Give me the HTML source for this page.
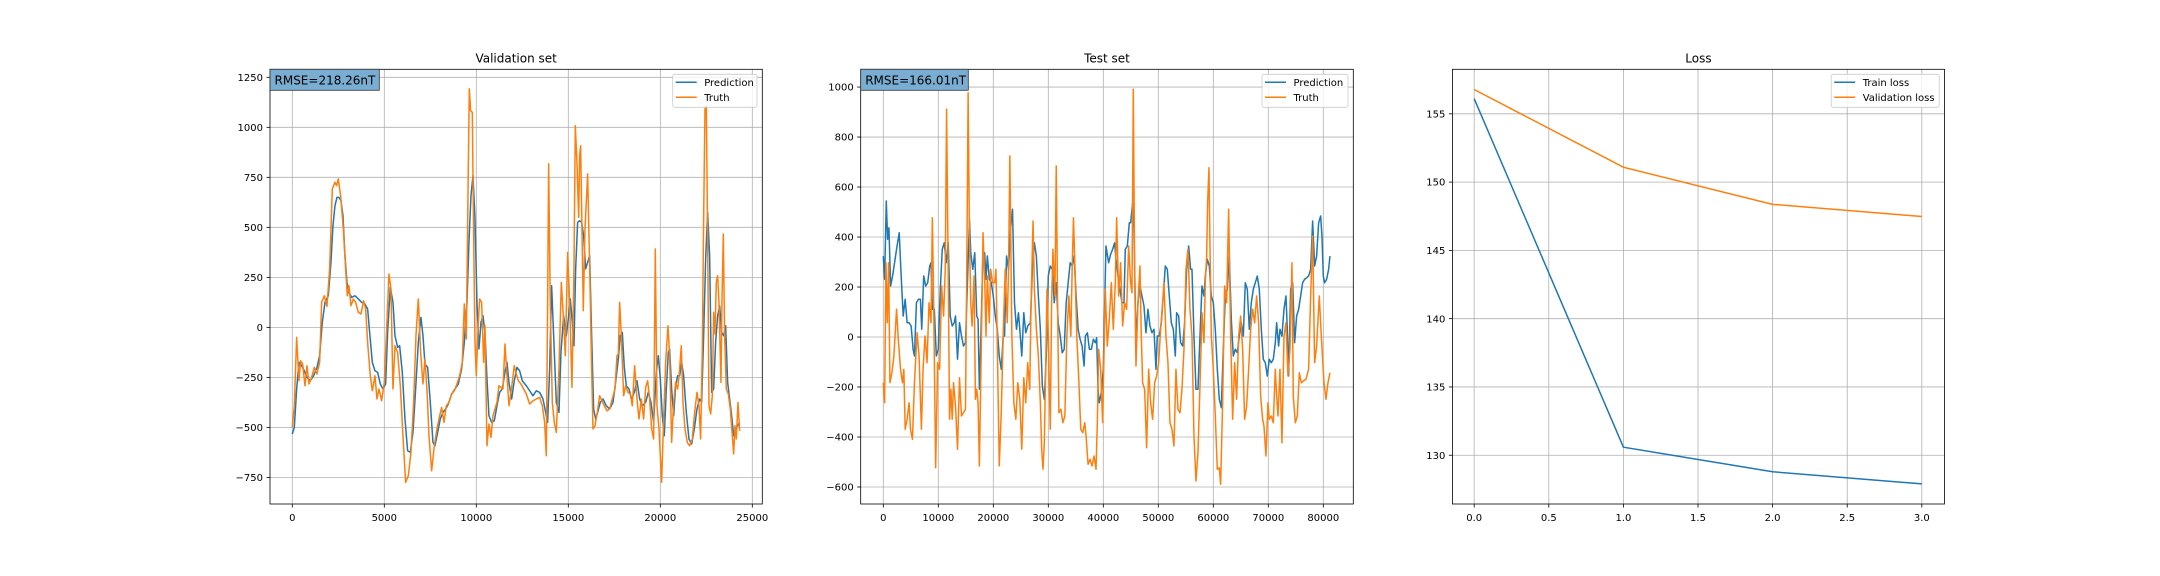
<!DOCTYPE html>
<html><head><meta charset="utf-8">
<style>
html,body{margin:0;padding:0;background:#fff;}
svg{display:block;font-family:"DejaVu Sans","Liberation Sans",sans-serif;}
</style></head>
<body>
<svg id="fig" width="2160" height="576" viewBox="0 0 2160 576" xmlns="http://www.w3.org/2000/svg">
<rect x="0" y="0" width="2160" height="576" fill="#fff"/>
</svg>
<script>
// ---------- Validation set data ----------
const valTruthX = [0,109,236,362,453,562,688,797,906,1051,1196,1341,1486,1594,1739,1884,2029,2174,2319,2409,2500,2627,2772,2899,2989,3080,3188,3315,3442,3587,3732,3877,3986,4094,4239,4348,4493,4601,4710,4855,5000,5127,5254,5362,5471,5580,5725,5870,6014,6159,6304,6449,6594,6721,6848,6975,7101,7210,7337,7428,7573,7717,7862,8007,8116,8243,8370,8514,8659,8804,8949,9094,9239,9348,9457,9565,9620,9692,9783,9855,9928,10000,10109,10181,10290,10399,10471,10580,10688,10797,10906,11014,11123,11232,11341,11449,11558,11667,11775,11920,12065,12174,12283,12428,12572,12717,12899,13080,13261,13442,13587,13714,13804,13877,13931,14022,14130,14239,14348,14493,14620,14728,14837,14964,15072,15199,15308,15380,15471,15562,15616,15670,15725,15815,15906,16051,16160,16250,16341,16449,16576,16703,16830,16956,17101,17246,17391,17536,17645,17717,17790,17880,18007,18116,18243,18370,18478,18605,18732,18841,18967,19094,19203,19312,19420,19529,19638,19728,19819,19928,20072,20181,20290,20417,20507,20616,20725,20833,20942,21051,21141,21232,21341,21467,21594,21739,21866,21993,22101,22192,22283,22355,22428,22500,22572,22645,22736,22826,22899,22971,23043,23116,23188,23297,23351,23424,23496,23587,23696,23804,23913,23986,24058,24130,24221,24312];
const valTruthY = [-500,-392,-50,-267,-167,-183,-292,-192,-283,-250,-200,-233,-175,125,158,105,292,692,725,708,742,658,492,292,158,208,108,142,125,75,67,133,92,-75,-242,-317,-242,-358,-308,-367,-275,-8,267,192,-308,-92,-125,-292,-542,-775,-742,-625,-375,-42,142,-125,-283,-158,-342,-542,-717,-592,-508,-442,-400,-475,-392,-375,-333,-317,-283,-242,-175,117,-58,792,1192,1083,1075,458,-75,-242,25,142,125,-175,8,-592,-483,-550,-442,-408,-375,-292,-300,-308,-83,-242,-392,-300,-192,-233,-267,-283,-308,-333,-383,-367,-358,-350,-392,-475,-642,125,817,108,-375,-475,-525,-208,225,58,-142,375,125,-300,292,1008,825,550,858,908,592,83,492,767,308,-125,-508,-492,-425,-342,-367,-392,-417,-408,-358,-308,-142,-133,125,-42,-342,-292,-325,-333,-392,-192,-358,-458,-358,-458,-300,-267,-358,-508,-558,392,-392,-508,-775,-458,-175,8,-142,-575,-375,-275,-308,-208,-92,-375,-508,-575,-592,-558,-425,-325,-392,-558,-108,542,1092,1108,458,-392,-433,-342,75,-33,225,258,125,-275,125,467,-42,-308,-333,-408,-542,-633,-492,-558,-375,-517];
const valPredX = [0,109,236,362,507,652,797,978,1159,1341,1486,1630,1775,1957,2101,2210,2319,2428,2536,2645,2754,2862,2971,3080,3225,3406,3587,3768,3949,4094,4203,4348,4493,4638,4783,4928,5072,5181,5326,5471,5580,5725,5833,5978,6123,6268,6413,6558,6703,6848,6993,7101,7210,7355,7500,7645,7754,7899,8043,8188,8333,8478,8659,8841,9022,9203,9348,9493,9601,9710,9819,9928,10036,10145,10254,10362,10471,10580,10688,10833,10978,11123,11268,11413,11558,11667,11775,11920,12065,12210,12355,12500,12717,12899,13080,13261,13442,13623,13768,13877,13986,14094,14203,14348,14493,14601,14746,14891,15000,15109,15217,15308,15399,15507,15616,15725,15833,15942,16051,16160,16268,16377,16486,16594,16739,16884,17065,17246,17428,17572,17717,17826,17935,18043,18152,18297,18442,18587,18732,18877,19022,19203,19348,19493,19638,19783,19891,20000,20109,20217,20326,20435,20507,20616,20725,20833,20942,21051,21159,21268,21413,21558,21703,21848,21993,22138,22246,22355,22464,22572,22681,22790,22899,23007,23116,23225,23333,23442,23551,23659,23768,23877,23986,24094,24203,24312];
const valPredY = [-533,-500,-308,-175,-192,-217,-250,-267,-242,-200,-142,25,125,158,325,508,608,650,650,633,558,358,225,175,150,158,142,125,117,92,-25,-175,-217,-225,-283,-308,-283,-25,200,125,-42,-100,-92,-225,-458,-617,-625,-525,-308,-75,50,-42,-183,-200,-375,-575,-592,-525,-458,-425,-408,-383,-333,-308,-283,-208,-75,125,425,658,758,542,125,-108,25,58,-25,-258,-442,-475,-467,-392,-325,-308,-225,-175,-275,-358,-267,-200,-217,-267,-292,-317,-342,-317,-325,-358,-425,-475,-208,208,-42,-375,-425,-125,58,-42,42,142,25,-92,292,525,533,525,458,292,325,358,-42,-408,-458,-425,-375,-358,-392,-408,-375,-275,-158,-42,-25,-200,-292,-308,-358,-325,-267,-358,-392,-375,-325,-375,-475,-225,-142,-258,-442,-542,-308,-125,-108,-308,-442,-292,-242,-242,-175,-242,-425,-558,-583,-508,-408,-358,-375,-42,342,575,358,-325,-308,-75,58,108,-25,-42,8,-275,-358,-442,-542,-508,-492,-475];
const valXTicks = [0,5000,10000,15000,20000,25000];
const valYTicks = [-750,-500,-250,0,250,500,750,1000,1250];

// ---------- Test set data ----------
const testTruthX = [0,241,482,723,964,1205,1566,1928,2410,2771,3133,3494,3735,3976,4337,4699,4940,5301,5663,6145,6506,6928,7229,7590,7952,8313,8675,8916,9157,9518,9880,10241,10602,10964,11265,11506,11807,12048,12289,12530,12771,13133,13494,13855,14217,14578,14940,15181,15422,15663,15904,16145,16506,16747,16988,17229,17470,17831,18133,18434,18675,18916,19277,19518,19880,20241,20482,20723,21084,21446,21807,22169,22530,22771,23012,23374,23735,24096,24458,24819,25181,25542,25904,26265,26627,26867,27229,27470,27831,28193,28554,28795,29036,29277,29518,29759,30000,30361,30602,30843,31205,31446,31687,31928,32289,32651,33012,33373,33735,34096,34337,34578,34819,35181,35542,35904,36265,36627,36867,37229,37590,37952,38313,38675,38916,39157,39518,39880,40364,40728,41091,41455,41819,42183,42425,42789,43152,43516,43880,44243,44607,44971,45213,45455,45697,45940,46303,46667,46910,47152,47516,47880,48243,48607,48970,49334,49697,50061,50425,50788,51030,51394,51758,52121,52485,52849,53212,53576,53940,54303,54667,55031,55394,55758,56122,56485,56849,57213,57576,57940,58304,58546,58788,58970,59213,59395,59637,60000,60364,60728,61091,61334,61697,62061,62425,62789,63152,63516,63880,64243,64607,64971,65334,65698,66062,66425,66789,67152,67516,67880,68243,68607,68970,69213,69576,69940,70182,70546,70910,71273,71516,71758,72122,72485,72849,73213,73576,73940,74304,74546,74910,75273,75637,76001,76364,76849,77334,77698,78061,78425,78789,79273,79637,80122,80486,80849,81213];
const testTruthY = [-183,-263,297,57,297,-183,-143,-76,111,-23,-129,-183,-129,-369,-329,-263,-369,-409,-183,17,-76,-369,-129,4,-103,137,57,477,137,-523,-103,-129,204,84,271,911,244,-329,-209,-329,-183,-276,-449,-163,-316,-303,-289,271,977,404,137,44,244,-249,-209,-263,-516,-23,417,231,4,244,57,271,217,217,271,-23,-516,-303,17,271,57,271,724,4,-263,-329,-183,-249,-449,-163,-263,-103,-209,137,464,191,31,-76,-263,-449,-529,-423,-129,191,4,-369,137,351,164,684,137,-303,-289,-343,-316,4,164,4,271,477,297,4,-169,-369,-383,-343,-396,-509,-489,-516,-476,-529,-343,-49,-129,-343,191,-36,71,217,31,217,477,164,297,44,137,111,364,217,177,991,271,-116,137,284,4,-183,-209,-443,-129,-263,-329,-183,-156,-103,31,137,217,4,-103,-343,-369,-436,-129,-289,-303,-209,-49,271,351,111,4,-396,-576,-463,-196,97,-23,217,324,537,677,364,4,-129,-316,-529,-523,-589,-263,204,137,511,4,-329,-103,-249,4,84,-49,-329,-276,-129,31,111,57,164,57,-236,-329,-356,-476,-263,-329,-316,-343,-129,-236,-316,-129,-423,4,57,-156,-49,297,-236,-343,-316,-143,-183,-176,-169,-129,164,404,-103,-36,164,4,-183,-249,-183,-143];
const testPredX = [0,241,542,783,1024,1325,1687,2048,2410,2892,3253,3614,3976,4337,4699,5060,5422,5663,6024,6386,6747,6988,7349,7711,8072,8434,8675,8916,9277,9638,10000,10361,10723,11084,11446,11807,12169,12530,12892,13133,13494,13855,14217,14578,14940,15301,15663,15904,16265,16627,16988,17229,17470,17711,18072,18434,18675,18916,19277,19639,20000,20361,20723,21084,21446,21807,22048,22410,22771,23133,23494,23855,24217,24578,24819,25181,25542,25904,26265,26747,27108,27470,27831,28193,28554,28916,29277,29639,30000,30361,30723,31084,31446,31807,32169,32530,32892,33253,33614,33976,34337,34699,35060,35422,35783,36145,36506,36747,37108,37470,37831,38193,38554,38795,39036,39277,39639,40000,40482,40970,41334,41698,42062,42304,42668,43031,43395,43759,44001,44365,44728,44971,45334,45577,45940,46303,46667,47031,47395,47758,48122,48486,48849,49213,49576,49819,50182,50546,50910,51273,51637,52001,52364,52728,53091,53334,53698,54061,54425,54789,55152,55516,55879,56122,56485,56849,57213,57576,57940,58304,58546,58910,59273,59637,60000,60364,60728,61091,61455,61819,62182,62546,62910,63273,63637,64001,64364,64728,65092,65455,65819,66183,66546,66910,67273,67637,68001,68364,68728,69092,69455,69819,70182,70546,70910,71273,71516,71879,72122,72485,72849,73213,73455,73698,74061,74425,74789,75152,75516,75879,76243,76607,76970,77334,77698,78061,78425,78789,79152,79516,79758,80001,80243,80607,80970,81213];
const testPredY = [324,231,544,391,437,204,244,297,351,417,244,84,151,57,57,44,-49,-76,137,151,151,31,244,204,217,284,297,111,111,-76,-49,191,351,377,297,377,84,44,57,84,-89,57,4,-36,-23,217,471,337,271,337,84,71,-209,-23,297,337,231,324,231,217,164,84,31,-76,-129,4,4,324,271,431,511,137,31,97,31,-76,97,17,44,57,271,377,324,164,31,-196,-249,-76,244,284,271,137,217,57,4,-63,-49,137,217,297,284,324,164,31,-9,-36,-116,4,17,-49,-49,-9,-23,-3,-209,-263,-223,-129,364,297,331,351,377,311,244,191,137,137,351,364,457,457,537,431,-23,137,204,164,124,17,111,44,17,31,-129,4,4,57,164,284,271,164,57,31,-76,97,84,-23,-36,57,271,364,271,271,4,-209,-209,4,204,164,244,311,284,164,137,31,-129,-249,-283,-49,164,191,324,71,-76,-49,-63,4,57,4,217,191,31,137,191,217,244,191,31,-89,-103,-156,-89,-103,-89,-23,57,-36,31,4,111,164,31,-156,191,217,-23,84,111,164,217,231,237,244,271,464,284,324,457,484,404,244,217,231,271,324];
const testXTicks = [0,10000,20000,30000,40000,50000,60000,70000,80000];
const testYTicks = [-600,-400,-200,0,200,400,600,800,1000];

// ---------- Loss data ----------
const epochs = [0,1,2,3];
const trainLoss = [156.11,130.59,128.79,127.90];
const validLoss = [156.78,151.09,148.37,147.48];
const lossXTicks = [0,0.5,1,1.5,2,2.5,3];
const lossYTicks = [130,135,140,145,150,155];

const NS = 'http://www.w3.org/2000/svg';
const fig = document.getElementById('fig');
const BLUE = '#1f77b4', ORANGE = '#ff7f0e';
function mk(tag, attrs, parent) {
  const e = document.createElementNS(NS, tag);
  for (const k in attrs) e.setAttribute(k, attrs[k]);
  (parent || fig).appendChild(e);
  return e;
}
function fmt(v, dec) {
  let s = dec ? v.toFixed(dec) : String(v);
  return s.replace('-', '\u2212');
}

function drawPanel(cfg) {
  const g = mk('g', {});
  
  
  const L = cfg.L, R = cfg.R, T = 69.3, B = 504;
  const sx = v => L + (v - cfg.x0) / (cfg.x1 - cfg.x0) * (R - L);
  const sy = v => B - (v - cfg.y0) / (cfg.y1 - cfg.y0) * (B - T);
  // grid
  cfg.xt.forEach(t => {
    const l = mk('line', {x1: sx(t), x2: sx(t), y1: T, y2: B, stroke: '#b0b0b0', 'stroke-width': 0.8}, g);
    
    
  });
  cfg.yt.forEach(t => {
    const l = mk('line', {x1: L, x2: R, y1: sy(t), y2: sy(t), stroke: '#b0b0b0', 'stroke-width': 0.8}, g);
    
    
  });
  // series
  const clip = 'clip-' + cfg.name;
  const cp = mk('clipPath', {id: clip}, g);
  mk('rect', {x: L, y: T, width: R - L, height: B - T}, cp);
  cfg.series.forEach(s => {
    const d = s.x.map((v, i) => (i ? 'L' : 'M') + sx(v).toFixed(2) + ' ' + sy(s.y[i]).toFixed(2)).join(' ');
    const p = mk('path', {d: d, fill: 'none', stroke: s.color, 'stroke-width': 1.5, 'stroke-linejoin': 'round', 'clip-path': 'url(#' + clip + ')'}, g);
    
    
  });
  // spines
  const sp = mk('rect', {x: L, y: T, width: R - L, height: B - T, fill: 'none', stroke: '#000', 'stroke-width': 0.8}, g);
  
  
  // ticks
  cfg.xt.forEach(t => {
    mk('line', {x1: sx(t), x2: sx(t), y1: B, y2: B + 3.5, stroke: '#000', 'stroke-width': 0.8}, g);
    const tx = mk('text', {x: sx(t), y: B + 17, 'font-size': 10, 'text-anchor': 'middle', fill: '#000'}, g);
    tx.textContent = fmt(t, cfg.xdec);
    
    
  });
  cfg.yt.forEach(t => {
    mk('line', {x1: L - 3.5, x2: L, y1: sy(t), y2: sy(t), stroke: '#000', 'stroke-width': 0.8}, g);
    const tx = mk('text', {x: L - 7, y: sy(t) + 3.6, 'font-size': 10, 'text-anchor': 'end', fill: '#000'}, g);
    tx.textContent = fmt(t, 0);
    
    
  });
  // title
  const ti = mk('text', {x: (L + R) / 2, y: T - 7, 'font-size': 12, 'text-anchor': 'middle', fill: '#000'}, g);
  ti.textContent = cfg.title;
  
  
  // rmse box
  if (cfg.rmse) {
    const bg = mk('g', {}, g);
    
    
    mk('rect', {x: L, y: T, width: cfg.rmseW, height: 21, fill: '#79add2', stroke: '#333', 'stroke-width': 0.8}, bg);
    const tx = mk('text', {x: L + 4.5, y: T + 15, 'font-size': 12, fill: '#000'}, bg);
    tx.textContent = cfg.rmse;
  }
  // legend
  const lg = mk('g', {}, g);
  
  
  const lw = cfg.legW, lx = R - 5.3 - lw, ly = 74.3;
  mk('rect', {x: lx, y: ly, width: lw, height: 33, rx: 2, fill: '#fff', 'fill-opacity': 0.8, stroke: '#ccc', 'stroke-width': 0.8}, lg);
  cfg.series.forEach((s, i) => {
    const yy = ly + 8 + i * 15;
    const e = mk('g', {}, lg);
    
    
    mk('line', {x1: lx + 3, x2: lx + 24, y1: yy, y2: yy, stroke: s.color, 'stroke-width': 1.5}, e);
    const t = mk('text', {x: lx + 31.5, y: yy + 3.6, 'font-size': 10, fill: '#000'}, e);
    t.textContent = s.label;
  });
}

drawPanel({name: 'validation-panel', title: 'Validation set', L: 270, R: 762.3,
  x0: -1212, x1: 25543, y0: -883, y1: 1290, xt: valXTicks, yt: valYTicks, xdec: 0,
  rmse: 'RMSE=218.26nT', rmseW: 109.3, legW: 84.3,
  series: [{name: 'prediction-line', label: 'Prediction', color: BLUE, x: valPredX, y: valPredY},
           {name: 'truth-line', label: 'Truth', color: ORANGE, x: valTruthX, y: valTruthY}]});
drawPanel({name: 'test-panel', title: 'Test set', L: 860.7, R: 1353.3,
  x0: -4109, x1: 85455, y0: -668, y1: 1071, xt: testXTicks, yt: testYTicks, xdec: 0,
  rmse: 'RMSE=166.01nT', rmseW: 107.6, legW: 86,
  series: [{name: 'prediction-line', label: 'Prediction', color: BLUE, x: testPredX, y: testPredY},
           {name: 'truth-line', label: 'Truth', color: ORANGE, x: testTruthX, y: testTruthY}]});
drawPanel({name: 'loss-panel', title: 'Loss', L: 1452.4, R: 1944.5,
  x0: -0.146, x1: 3.152, y0: 126.43, y1: 158.26, xt: lossXTicks, yt: lossYTicks, xdec: 1,
  rmse: null, legW: 108,
  series: [{name: 'train-loss-line', label: 'Train loss', color: BLUE, x: epochs, y: trainLoss},
           {name: 'validation-loss-line', label: 'Validation loss', color: ORANGE, x: epochs, y: validLoss}]});
</script>
</body></html>
